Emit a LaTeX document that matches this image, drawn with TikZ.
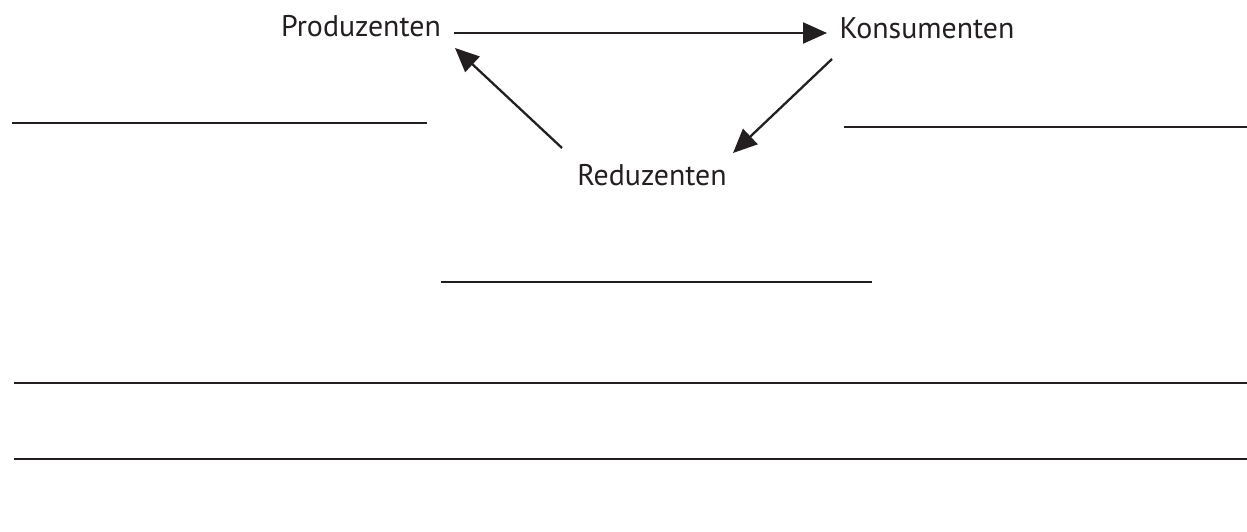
\documentclass[tikz,border=0pt]{standalone}
\usepackage{fontspec}
\setmainfont{PT Sans}
\usepackage{tikz}
\usetikzlibrary{arrows.meta,positioning}
\definecolor{inkgray}{RGB}{35,31,32}

\begin{document}
\begin{tikzpicture}[x=0.2mm,y=-0.2mm,
    label/.style={font=\fontsize{17}{20}\selectfont,color=inkgray,inner sep=0pt,anchor=base},
    cycarrow/.style={line width=1.3pt,color=inkgray,-{Triangle[length=4.8mm,width=4.2mm]}},
    answer/.style={line width=1.5pt,color=inkgray}]
  \useasboundingbox (0,0) rectangle (1247,532);
  % Stoffkreislauf
  \node[label] (prod) at (361,37) {Produzenten};
  \node[label] (kons) at (927,39) {Konsumenten};
  \node[label] (red) at (652,186) {Reduzenten};
  \coordinate (prodout) at (454,33);
  \coordinate (konsin) at (827,33);
  \coordinate (konsout) at (832,59);
  \coordinate (redin) at (733,153);
  \coordinate (redout) at (562,148);
  \coordinate (prodin) at (455,48);
  \draw[cycarrow] (prodout) -- (konsin);
  \draw[cycarrow] (konsout) -- (redin);
  \draw[cycarrow] (redout) -- (prodin);
  % Schreiblinien
  \draw[answer] (12,123) -- (427,123);
  \draw[answer] (844,127) -- (1247,127);
  \draw[answer] (441,282) -- (872,282);
  \foreach \y in {383,459}{
    \draw[answer] (14,\y) -- (1247,\y);
  }
\end{tikzpicture}
\end{document}
